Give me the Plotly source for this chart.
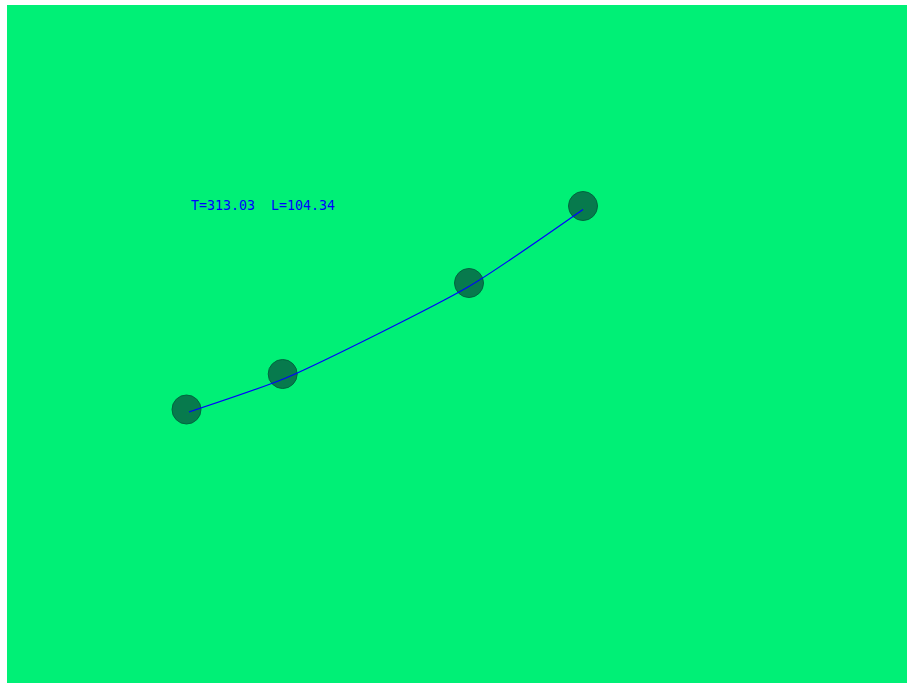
import plotly.graph_objects as go

# Node positions (plot units: x to the right, y downward)
node_x = [179.5, 275.7, 462.0, 576.0]
node_y = [404.5, 369.0, 278.0, 201.0]

# Rope / line path
line_x = [182.0, 280.0, 461.0, 576.0]
line_y = [407.0, 372.5, 282.0, 204.5]

# Readout values
tension = 313.03
length = 104.34
label = f"T={tension:.2f}  L={length:.2f}"

fig = go.Figure()
fig.add_trace(go.Scatter(
    x=node_x, y=node_y, mode="markers",
    marker=dict(size=29, color="#077a4d", line=dict(color="#00653e", width=1)),
    hoverinfo="skip", showlegend=False,
))
fig.add_trace(go.Scatter(
    x=line_x, y=line_y, mode="lines",
    line=dict(color="#0000ff", width=1.2, shape="spline", smoothing=0.6),
    hoverinfo="skip", showlegend=False,
))
fig.add_annotation(
    x=181.5, y=200.5, xref="x", yref="y", text=label, showarrow=False,
    xanchor="left", yanchor="middle",
    font=dict(family="DejaVu Sans Mono", size=13.3, color="#0000ff"),
)
fig.update_layout(
    width=907, height=683,
    margin=dict(l=7, t=5, r=0, b=0),
    paper_bgcolor="white",
    plot_bgcolor="#00f076",
    xaxis=dict(range=[0, 900], visible=False, fixedrange=True),
    yaxis=dict(range=[678, 0], visible=False, fixedrange=True),
)
fig.write_html("out.html", config={"displayModeBar": False},
               post_script="document.body.style.margin='0';")
